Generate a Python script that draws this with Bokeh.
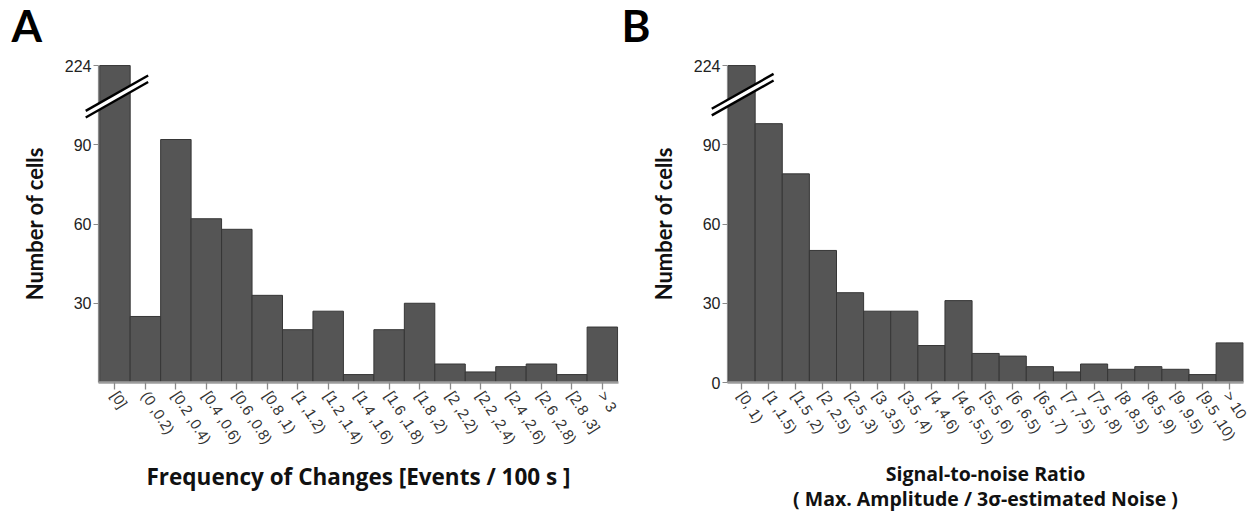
from bokeh.plotting import figure
from bokeh.layouts import row
from bokeh.models import FixedTicker, Range1d
from bokeh.core.properties import value
from bokeh.embed import file_html
from bokeh.resources import INLINE

# ---------------- data ----------------
freq_bins = ["[0]", "(0 ,0.2)", "[0.2 ,0.4)", "[0.4 ,0.6)", "[0.6 ,0.8)", "[0.8 ,1)",
             "[1 ,1.2)", "[1.2 ,1.4)", "[1.4 ,1.6)", "[1.6 ,1.8)", "[1.8 ,2)", "[2 ,2.2)",
             "[2.2 ,2.4)", "[2.4 ,2.6)", "[2.6 ,2.8)", "[2.8 ,3]", "> 3"]
freq_counts = [224, 25, 92, 62, 58, 33, 20, 27, 3, 20, 30, 7, 4, 6, 7, 3, 21]

snr_bins = ["[0, 1)", "[1 ,1.5)", "[1.5 ,2)", "[2 ,2.5)", "[2.5 ,3)", "[3 ,3.5)", "[3.5 ,4)",
            "[4 ,4.6)", "[4.6 ,5.5)", "[5.5 ,6)", "[6 ,6.5)", "[6.5 ,7)", "[7 ,7.5)",
            "[7.5 ,8)", "[8 ,8.5)", "[8.5 ,9)", "[9 ,9.5)", "[9.5 ,10)", "> 10"]
snr_counts = [224, 98, 79, 50, 34, 27, 27, 14, 31, 11, 10, 6, 4, 7, 5, 6, 5, 3, 15]

ticks_a = [30, 60, 90]
ticks_b = [0, 30, 60, 90]

# broken y axis: values above BREAK_AT are drawn at AXIS_TOP and labelled with their value
BREAK_AT = 110
AXIS_TOP = 120
Y_END = 120.4

BAR_FILL = "#555555"
BAR_LINE = "#363636"
LABEL_FONT = "Lato"
XTITLE_FONT = "Open Sans"
TICK_FONT = "Liberation Sans"


def make_panel(letter, letter_xy, cats, counts, yticks, xtitle, xtitle_size, width,
               border_left, border_right, x_start, x_pad, break_mid, xtitle_standoff,
               xtitle_line_height):
    n = len(cats)
    idx = list(range(n))
    shown = [v if v <= BREAK_AT else AXIS_TOP for v in counts]
    top_val = max(counts)

    p = figure(width=width, height=516, output_backend="svg", toolbar_location=None,
               x_range=Range1d(x_start, n - 0.5 + x_pad), y_range=Range1d(0, Y_END),
               min_border_left=border_left, min_border_right=border_right,
               min_border_top=64, min_border_bottom=134)
    p.outline_line_color = None
    p.grid.visible = False
    p.background_fill_color = "white"
    p.border_fill_color = "white"

    p.vbar(x=idx, top=shown, bottom=0, width=1.0, fill_color=BAR_FILL,
           line_color=BAR_LINE, line_width=1)

    # x axis
    xa = p.xaxis[0]
    xa.ticker = FixedTicker(ticks=idx)
    xa.major_label_overrides = {i: c for i, c in zip(idx, cats)}
    xa.major_label_orientation = -1.0
    xa.major_label_text_font = TICK_FONT
    xa.major_label_text_font_size = "15px"
    xa.major_label_text_color = "#333333"
    xa.major_label_standoff = 3
    xa.axis_line_color = "#9c9c9c"
    xa.axis_line_width = 2.5
    xa.major_tick_line_color = "#8a8a8a"
    xa.major_tick_line_width = 1.3
    xa.major_tick_out = 7
    xa.major_tick_in = 0
    xa.minor_tick_line_color = None
    xa.axis_label = xtitle
    xa.axis_label_text_font = XTITLE_FONT
    xa.axis_label_text_font_size = xtitle_size
    xa.axis_label_text_font_style = "bold"
    xa.axis_label_text_color = "#111111"
    xa.axis_label_text_line_height = xtitle_line_height
    xa.axis_label_text_align = "center"
    xa.axis_label_standoff = xtitle_standoff

    # y axis
    ya = p.yaxis[0]
    ya.ticker = FixedTicker(ticks=yticks + [AXIS_TOP])
    ya.major_label_overrides = {AXIS_TOP: str(top_val)}
    ya.bounds = (0, AXIS_TOP)
    ya.axis_line_color = "#8a8a8a"
    ya.axis_line_width = 1.2
    ya.major_tick_line_color = "#8a8a8a"
    ya.major_tick_out = 5
    ya.major_tick_in = 0
    ya.minor_tick_line_color = None
    ya.major_label_text_font = TICK_FONT
    ya.major_label_text_font_size = "16px"
    ya.major_label_text_color = "#222222"
    ya.major_label_standoff = 2
    ya.axis_label = "Number of cells"
    ya.axis_label_text_font = LABEL_FONT
    ya.axis_label_text_font_size = "22px"
    ya.axis_label_text_font_style = "bold"
    ya.axis_label_text_color = "#111111"
    ya.axis_label_standoff = 14

    # axis-break mark across the tallest bar
    (bx0, by0), (bx1, by1), d = break_mid
    band = p.patch([bx0, bx1, bx1, bx0], [by0 - d, by1 - d, by1 + d, by0 + d],
                   fill_color="white", line_color=None)
    marks = p.multi_line([[bx0, bx1], [bx0, bx1]], [[by0 - d, by1 - d], [by0 + d, by1 + d]],
                         line_color="black", line_width=2.4)
    band.level = "overlay"
    marks.level = "overlay"

    # panel letter
    lx, ly = letter_xy
    t = p.text(x=[lx], y=[ly], text=[letter], text_font=value(LABEL_FONT),
               text_font_size="44px", text_font_style="bold", text_color="black",
               text_align="left", text_baseline="alphabetic")
    t.level = "overlay"
    return p


pA = make_panel("A", (-3.40, 135.5), freq_bins, freq_counts, ticks_a,
                "Frequency of Changes [Events / 100 s ]", "22.5px",
                width=620, border_left=98, border_right=2, x_start=-0.54, x_pad=0.03,
                break_mid=((-0.96, 101.6), (1.09, 115.0), 1.25), xtitle_standoff=6,
                xtitle_line_height=1.05)
pB = make_panel("B", (-4.43, 135.5), snr_bins, snr_counts, ticks_b,
                "Signal-to-noise Ratio\n( Max. Amplitude / 3σ-estimated Noise )", "19.5px",
                width=630, border_left=107, border_right=7, x_start=-0.52, x_pad=0.01,
                break_mid=((-1.10, 102.4), (1.18, 115.6), 1.25), xtitle_standoff=5,
                xtitle_line_height=0.95)

layout = row(pA, pB)
open("out.html", "w").write(file_html(layout, INLINE))
